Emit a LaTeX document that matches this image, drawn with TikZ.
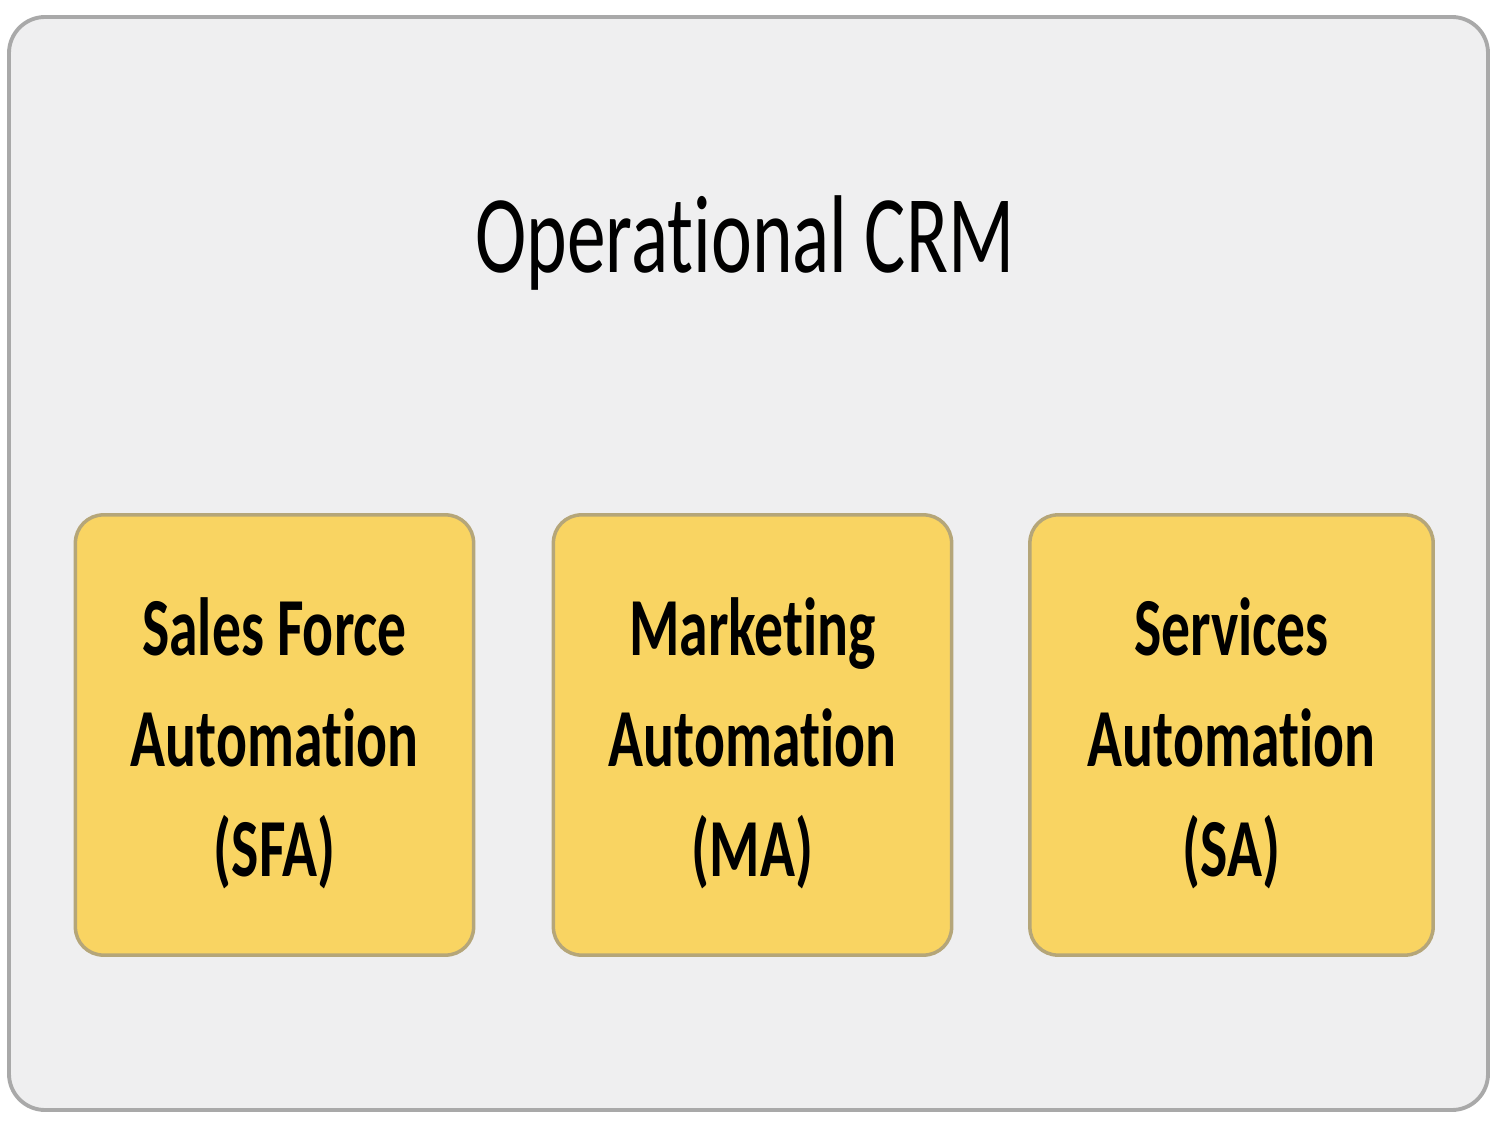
\documentclass[tikz,border=0pt]{standalone}
\usepackage{fontspec}
\setmainfont[Ligatures=NoCommon,RawFeature=-liga]{Carlito}
\usepackage{graphicx}
\definecolor{panelfill}{HTML}{EFEFF0}
\definecolor{panelline}{HTML}{A9A9A9}
\definecolor{boxfill}{HTML}{F9D462}
\definecolor{boxline}{HTML}{B5A679}
\newcommand{\tallText}[1]{\scalebox{1}[1.43]{#1}}
\tikzset{
  panel/.style={draw=panelline, fill=panelfill, line width=1.1pt, rounded corners=0.36cm},
  autobox/.style={draw=boxline, fill=boxfill, line width=1.0pt, rounded corners=0.28cm,
    minimum width=3.98cm, minimum height=4.4cm, inner sep=0pt, text=black},
  boxtext/.style={text=black, inner sep=0pt},
}
\begin{document}
\begin{tikzpicture}[x=0.01cm,y=-0.01cm]
\useasboundingbox (0,0) rectangle (1500,1125);
\draw[panel] (9,17) rectangle (1488,1110);
\node (title) at (745,243) {\tallText{\fontsize{22pt}{26pt}\selectfont Operational CRM}};
\node[autobox] (sfa) at (274.5,735) {};
\node[autobox] (ma) at (752.5,735) {};
\node[autobox, minimum width=4.03cm] (sa) at (1231.5,735) {};
\node[boxtext] (sfatext) at ([yshift=-0.09cm]sfa.center) {\tallText{\fontsize{16.4pt}{21.9pt}\selectfont\bfseries\begin{tabular}{@{}c@{}}Sales Force\\Automation\\(SFA)\end{tabular}}};
\node[boxtext] (matext) at ([yshift=-0.09cm]ma.center) {\tallText{\fontsize{16.4pt}{21.9pt}\selectfont\bfseries\begin{tabular}{@{}c@{}}Marketing\\Automation\\(MA)\end{tabular}}};
\node[boxtext] (satext) at ([yshift=-0.09cm]sa.center) {\tallText{\fontsize{16.4pt}{21.9pt}\selectfont\bfseries\begin{tabular}{@{}c@{}}Services\\Automation\\(SA)\end{tabular}}};
\end{tikzpicture}
\end{document}
